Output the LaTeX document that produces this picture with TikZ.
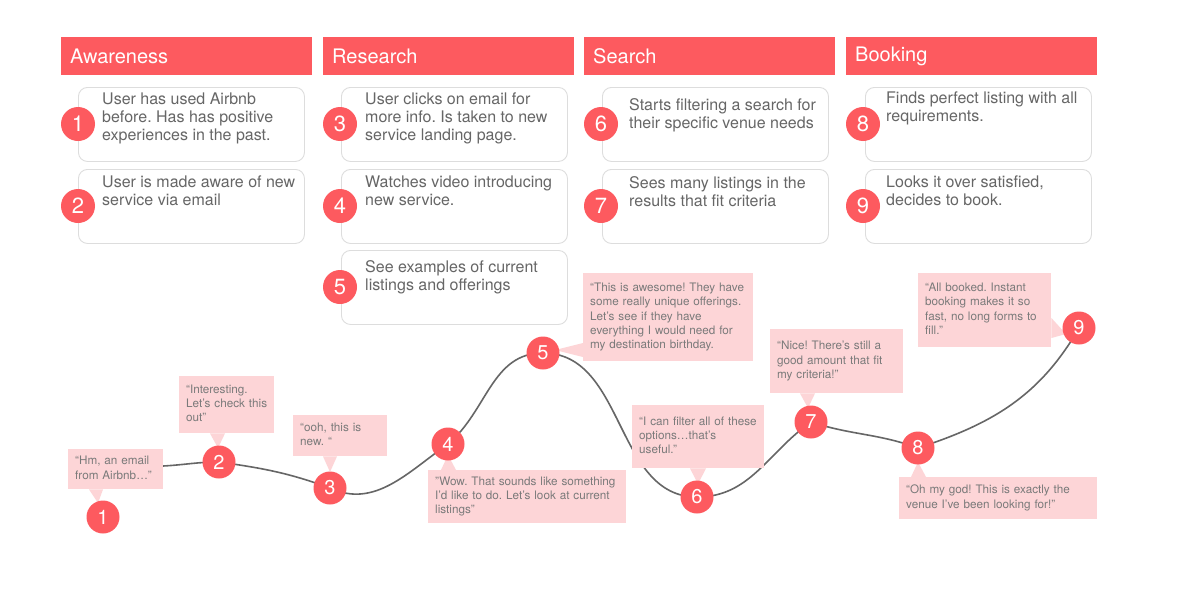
\documentclass[tikz,border=0pt]{standalone}
\usepackage{fontspec}
\setmainfont{TeX Gyre Heros}
\usetikzlibrary{calc}
\frenchspacing
\hbadness=10000
\hfuzz=50pt
\definecolor{coral}{HTML}{FD5A5F}
\definecolor{bubpink}{HTML}{FDD5D7}
\definecolor{cardline}{HTML}{DDDDDD}
\definecolor{cardgray}{HTML}{666666}
\definecolor{bubgray}{HTML}{7A7A7A}
\definecolor{curvegray}{HTML}{666666}
\newcommand\bublines[1]{\begin{tabular}{@{}l@{}}#1\end{tabular}}
\pgfdeclarelayer{bg}
\pgfdeclarelayer{paper}
\pgfsetlayers{paper,bg,main}
\tikzset{
  hdr/.style={fill=coral, anchor=north west, minimum width=251pt, minimum height=38pt,
    text width=233pt, inner xsep=9pt, inner ysep=0pt, align=left, text=white,
    font=\fontsize{20}{22}\selectfont},
  card/.style={draw=cardline, line width=0.9pt, rounded corners=9pt, fill=white,
    anchor=north west, minimum width=226pt, minimum height=74pt, inner sep=0pt},
  cardtext/.style={text=cardgray, font=\fontsize{16}{18}\selectfont, align=left,
    anchor=north west, inner sep=0pt},
  num/.style={circle, fill=coral, text=white, minimum size=34pt, inner sep=0pt,
    font=\fontsize{22}{22}\selectfont},
  pnum/.style={num, minimum size=33pt, font=\fontsize{20}{20}\selectfont},
  bubble/.style={fill=bubpink, text=bubgray, font=\fontsize{11.7}{14.3}\selectfont,
    align=left, anchor=north west, inner xsep=7pt, inner ysep=0pt},
  ptr/.style={fill=bubpink},
  journey/.style={draw=curvegray, line width=1.6pt},
}
\begin{document}
\begin{tikzpicture}[x=1pt,y=1pt]
\begin{pgfonlayer}{paper}
\path[use as bounding box, fill=white] (0,0) rectangle (1177,-589);
\end{pgfonlayer}

% headers
\node[hdr] (h1) at (61,-37) {Awareness};
\node[hdr] (h2) at (323,-37) {Research};
\node[hdr] (h3) at (584,-37) {Search};
\node[hdr] (h4) at (846,-37) {Booking};

% cards
\node[card] (k1) at (78,-87) {};
\node[card] (k2) at (78,-169) {};
\node[card] (k3) at (341,-87) {};
\node[card] (k4) at (341,-169) {};
\node[card] (k5) at (341,-250) {};
\node[card] (k6) at (602,-87) {};
\node[card] (k7) at (602,-169) {};
\node[card] (k8) at (865,-87) {};
\node[card] (k9) at (865,-169) {};

\node[cardtext] (t1) at (102,-93) {User has used Airbnb\\before. Has has positive\\experiences in the past.};
\node[cardtext] (t2) at (102,-176) {User is made aware of new\\service via email};
\node[cardtext] (t3) at (365,-93) {User clicks on email for\\more info. Is taken to new\\service landing page.};
\node[cardtext] (t4) at (365,-176) {Watches video introducing\\new service.};
\node[cardtext] (t5) at (365,-260) {See examples of current\\listings and offerings};
\node[cardtext] (t6) at (629,-98) {Starts filtering a search for\\their specific venue needs};
\node[cardtext] (t7) at (629,-176) {Sees many listings in the\\results that fit criteria};
\node[cardtext] (t8) at (886,-92) {Finds perfect listing with all\\requirements.};
\node[cardtext] (t9) at (886,-176) {Looks it over satisfied,\\decides to book.};

\node[num] (n1) at (78,-124) {1};
\node[num] (n2) at (78,-206) {2};
\node[num] (n3) at (340,-124) {3};
\node[num] (n4) at (340,-206) {4};
\node[num] (n5) at (340,-287) {5};
\node[num] (n6) at (601,-124) {6};
\node[num] (n7) at (601,-206) {7};
\node[num] (n8) at (863,-124) {8};
\node[num] (n9) at (863,-206) {9};

% journey circles
\node[pnum] (c1) at (103,-517) {1};
\node[pnum] (c2) at (219,-462) {2};
\node[pnum] (c3) at (330,-488) {3};
\node[pnum] (c4) at (448,-444) {4};
\node[pnum] (c5) at (543,-353) {5};
\node[pnum] (c6) at (697,-497) {6};
\node[pnum] (c7) at (811,-422) {7};
\node[pnum] (c8) at (918,-448) {8};
\node[pnum] (c9) at (1079,-328) {9};
\coordinate (s) at (163,-466);

\begin{pgfonlayer}{bg}
\draw[journey] (s) to[out=3,in=180] (c2.center)
  to[out=-8,in=160] (c3.center)
  to[out=-25,in=215] (c4.center)
  to[out=40,in=180] (c5.center)
  to[out=0,in=180] (c6.center)
  to[out=0,in=215] (c7.center)
  to[out=-18,in=160] (c8.center)
  to[out=18,in=240] (c9.center);

\node[bubble, text width=81pt, minimum height=40pt] (b1) at (68,-449) {\bublines{“Hm, an email\\from Airbnb…”}};
\node[bubble, text width=81pt, minimum height=57pt] (b2) at (179,-376) {\bublines{“Interesting.\\Let’s check this\\out”}};
\node[bubble, text width=80pt, minimum height=41pt] (b3) at (293,-415) {\bublines{“ooh, this is\\new. “}};
\node[bubble, text width=184pt, minimum height=53pt] (b4) at (428,-470) {\bublines{"Wow. That sounds like something\\I’d like to do. Let’s look at current\\listings"}};
\node[bubble, text width=156pt, minimum height=88pt] (b5) at (583,-273) {\bublines{“This is awesome! They have\\some really unique offerings.\\Let’s see if they have\\everything I would need for\\my destination birthday.}};
\node[bubble, text width=118pt, minimum height=63pt] (b6) at (632,-405) {\bublines{“I can filter all of these\\options…that’s\\useful.”}};
\node[bubble, text width=119pt, minimum height=64pt] (b7) at (770,-329) {\bublines{“Nice! There’s still a\\good amount that fit\\my criteria!”}};
\node[bubble, text width=184pt, minimum height=42pt] (b8) at (899,-477) {\bublines{“Oh my god! This is exactly the\\venue I’ve been looking for!”}};
\node[bubble, text width=119pt, minimum height=74pt] (b9) at (918,-273) {\bublines{“All booked. Instant\\booking makes it so\\fast, no long forms to\\fill.”}};

\fill[ptr] ($(b1.south west)+(21,0)$) -- ($(b1.south west)+(35,0)$) -- (98,-503) -- cycle;
\fill[ptr] ($(b2.south west)+(31,0)$) -- ($(b2.south west)+(46,0)$) -- (218,-448) -- cycle;
\fill[ptr] ($(b3.south west)+(30,0)$) -- ($(b3.south west)+(44,0)$) -- (330,-472) -- cycle;
\fill[ptr] ($(b4.north west)+(13,0)$) -- ($(b4.north west)+(28,0)$) -- (448,-455) -- cycle;
\fill[ptr] ($(b5.north west)+(0,-70)$) -- ($(b5.north west)+(0,-84)$) -- (555,-350) -- cycle;
\fill[ptr] ($(b6.south west)+(58,0)$) -- ($(b6.south west)+(74,0)$) -- (698,-484) -- cycle;
\fill[ptr] ($(b7.south west)+(30,0)$) -- ($(b7.south west)+(45,0)$) -- (808,-408) -- cycle;
\fill[ptr] ($(b8.north west)+(12,0)$) -- ($(b8.north west)+(27,0)$) -- (918,-462) -- cycle;
\fill[ptr] ($(b9.north east)+(0,-45)$) -- ($(b9.north east)+(0,-65)$) -- (1066,-334) -- cycle;
\end{pgfonlayer}
\end{tikzpicture}
\end{document}
